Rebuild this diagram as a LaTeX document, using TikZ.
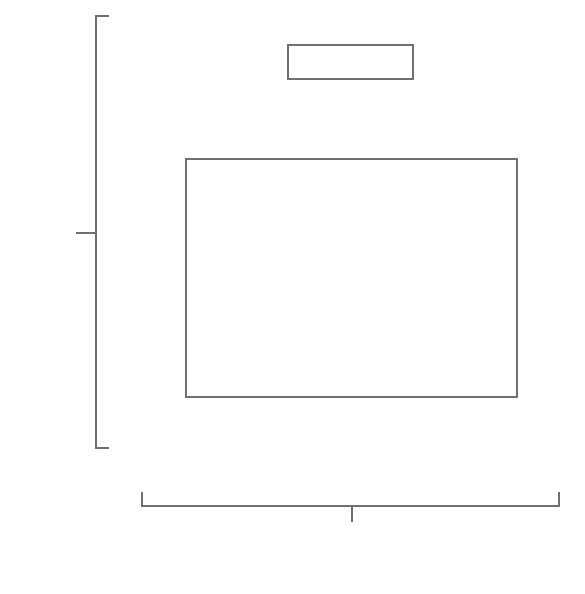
\documentclass[tikz,border=0pt]{standalone}
\usepackage{tikz}
\usepackage{xcolor}
\definecolor{framegray}{HTML}{707070}
\tikzset{
    plain-box/.style = {draw=framegray, fill=white, line width=1.5pt, rectangle, inner sep=0pt},
    brace-line/.style = {draw=framegray, line width=1.5pt},
}

\begin{document}
\begin{tikzpicture}[x=1pt, y=-1pt]
\useasboundingbox (0,0) rectangle (584,594);
\node [plain-box, minimum width=125pt, minimum height=34pt] (small) at (350.5,62) {};
\node [plain-box, minimum width=331pt, minimum height=238pt] (big) at (351.5,278) {};
% left bracket
\draw [brace-line] (109,16) -- (96,16) -- (96,448) -- (109,448);
\coordinate (leftmid) at (96,233);
\draw [brace-line] (leftmid) -- ++(-20,0);
% bottom bracket
\draw [brace-line] (142,492) -- (142,506) -- (559,506) -- (559,492);
\coordinate (bottommid) at (352,506);
\draw [brace-line] (bottommid) -- ++(0,16);
\end{tikzpicture}
\end{document}
